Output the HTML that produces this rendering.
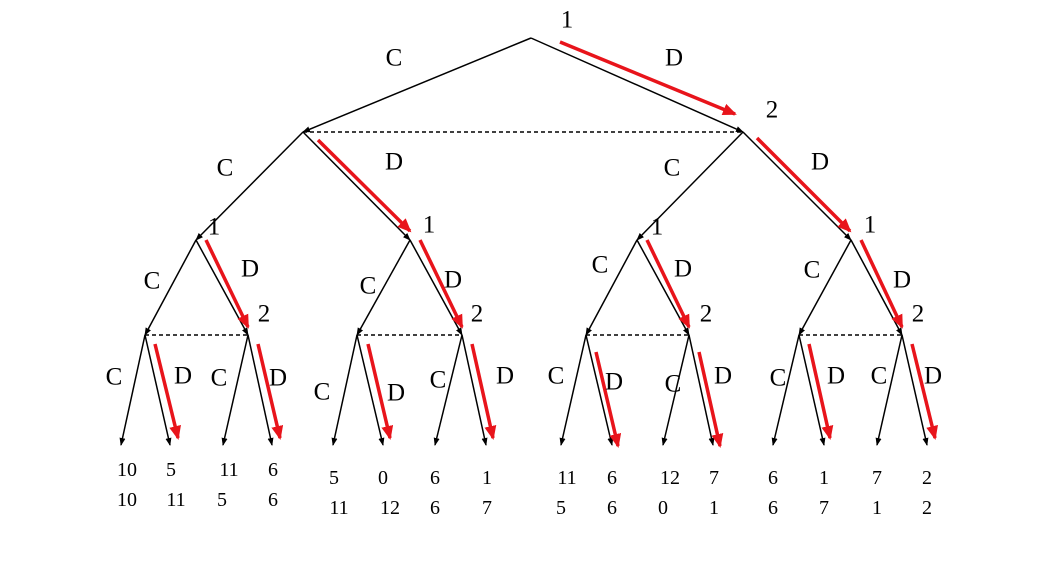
<!DOCTYPE html>
<html><head><meta charset="utf-8"><style>html,body{margin:0;padding:0;background:#fff}svg{display:block}text{font-family:"Liberation Serif",serif;fill:#000}</style></head><body>
<svg width="1040" height="567" viewBox="0 0 1040 567" xmlns="http://www.w3.org/2000/svg">
<defs>
<marker id="a" markerWidth="8" markerHeight="8" refX="7" refY="4" orient="auto" markerUnits="userSpaceOnUse"><path d="M0,1 L8,4 L0,7 Z" fill="#000"/></marker>
<marker id="r" markerWidth="14" markerHeight="12" refX="12" refY="6" orient="auto" markerUnits="userSpaceOnUse"><path d="M0,0 L14,6 L0,12 Z" fill="#e8141b"/></marker>
</defs>
<g stroke="#000" stroke-width="1.5" fill="none" marker-end="url(#a)">
<line x1="531" y1="38" x2="303" y2="132"/><line x1="531" y1="38" x2="743" y2="132"/>
<line x1="303" y1="132" x2="196" y2="240"/><line x1="303" y1="132" x2="410" y2="240"/>
<line x1="743" y1="132" x2="637" y2="240"/><line x1="743" y1="132" x2="851" y2="240"/>
<line x1="196" y1="240" x2="145" y2="335"/><line x1="196" y1="240" x2="248" y2="335"/>
<line x1="410" y1="240" x2="357" y2="335"/><line x1="410" y1="240" x2="462" y2="335"/>
<line x1="637" y1="240" x2="586" y2="335"/><line x1="637" y1="240" x2="689" y2="335"/>
<line x1="851" y1="240" x2="799" y2="335"/><line x1="851" y1="240" x2="902" y2="335"/>
<line x1="145" y1="335" x2="121" y2="445"/><line x1="145" y1="335" x2="170" y2="445"/>
<line x1="248" y1="335" x2="223" y2="445"/><line x1="248" y1="335" x2="272" y2="445"/>
<line x1="357" y1="335" x2="333" y2="445"/><line x1="357" y1="335" x2="383" y2="445"/>
<line x1="462" y1="335" x2="435" y2="445"/><line x1="462" y1="335" x2="486" y2="445"/>
<line x1="586" y1="335" x2="561" y2="445"/><line x1="586" y1="335" x2="612" y2="445"/>
<line x1="689" y1="335" x2="663" y2="445"/><line x1="689" y1="335" x2="713" y2="445"/>
<line x1="799" y1="335" x2="773" y2="445"/><line x1="799" y1="335" x2="824" y2="445"/>
<line x1="902" y1="335" x2="877" y2="445"/><line x1="902" y1="335" x2="927" y2="445"/>
</g>
<g stroke="#000" stroke-width="1.4" stroke-dasharray="4,3">
<line x1="303" y1="132" x2="743" y2="132"/>
<line x1="145" y1="335" x2="248" y2="335"/><line x1="357" y1="335" x2="462" y2="335"/>
<line x1="586" y1="335" x2="689" y2="335"/><line x1="799" y1="335" x2="902" y2="335"/>
</g>
<g stroke="#e8141b" stroke-width="3.5" fill="none" marker-end="url(#r)">
<line x1="560" y1="42" x2="735" y2="114"/>
<line x1="318" y1="140" x2="410" y2="231"/><line x1="757" y1="138" x2="850" y2="231"/>
<line x1="206" y1="240" x2="248" y2="327"/><line x1="420" y1="240" x2="462" y2="327"/>
<line x1="647" y1="240" x2="689" y2="327"/><line x1="861" y1="240" x2="902" y2="327"/>
<line x1="155" y1="344" x2="178" y2="438"/><line x1="258" y1="344" x2="280" y2="438"/>
<line x1="368" y1="344" x2="390" y2="438"/><line x1="472" y1="344" x2="493" y2="438"/>
<line x1="596" y1="352" x2="618" y2="446"/><line x1="699" y1="352" x2="720" y2="446"/>
<line x1="809" y1="344" x2="830" y2="438"/><line x1="912" y1="344" x2="935" y2="438"/>
</g>
<g font-size="25" text-anchor="middle" dominant-baseline="central">
<text x="567" y="20">1</text><text x="394" y="58">C</text><text x="674" y="58">D</text><text x="772" y="110">2</text>
<text x="225" y="168">C</text><text x="394" y="162">D</text><text x="672" y="168">C</text><text x="820" y="162">D</text>
<text x="214" y="227">1</text><text x="429" y="225">1</text><text x="657" y="227">1</text><text x="870" y="225">1</text>
<text x="152" y="281">C</text><text x="250" y="269">D</text><text x="264" y="314">2</text>
<text x="368" y="286">C</text><text x="453" y="280">D</text><text x="477" y="314">2</text>
<text x="600" y="265">C</text><text x="683" y="269">D</text><text x="706" y="314">2</text>
<text x="812" y="270">C</text><text x="902" y="280">D</text><text x="918" y="314">2</text>
<text x="114" y="377">C</text><text x="183" y="376">D</text><text x="219" y="378">C</text><text x="278" y="378">D</text>
<text x="322" y="392">C</text><text x="396" y="393">D</text><text x="438" y="380">C</text><text x="505" y="376">D</text>
<text x="556" y="376">C</text><text x="614" y="382">D</text><text x="673" y="384">C</text><text x="723" y="376">D</text>
<text x="778" y="378">C</text><text x="836" y="376">D</text><text x="879" y="376">C</text><text x="933" y="376">D</text>
</g>
<g font-size="20" text-anchor="middle" dominant-baseline="central">
<text x="127" y="470">10</text><text x="171" y="470">5</text><text x="229" y="470">11</text><text x="273" y="470">6</text>
<text x="127" y="500">10</text><text x="176" y="500">11</text><text x="222" y="500">5</text><text x="273" y="500">6</text>
<text x="334" y="478">5</text><text x="383" y="478">0</text><text x="435" y="478">6</text><text x="487" y="478">1</text>
<text x="339" y="508">11</text><text x="390" y="508">12</text><text x="435" y="508">6</text><text x="487" y="508">7</text>
<text x="567" y="478">11</text><text x="612" y="478">6</text><text x="670" y="478">12</text><text x="714" y="478">7</text>
<text x="561" y="508">5</text><text x="612" y="508">6</text><text x="663" y="508">0</text><text x="714" y="508">1</text>
<text x="773" y="478">6</text><text x="824" y="478">1</text><text x="877" y="478">7</text><text x="927" y="478">2</text>
<text x="773" y="508">6</text><text x="824" y="508">7</text><text x="877" y="508">1</text><text x="927" y="508">2</text>
</g>
</svg>
</body></html>
